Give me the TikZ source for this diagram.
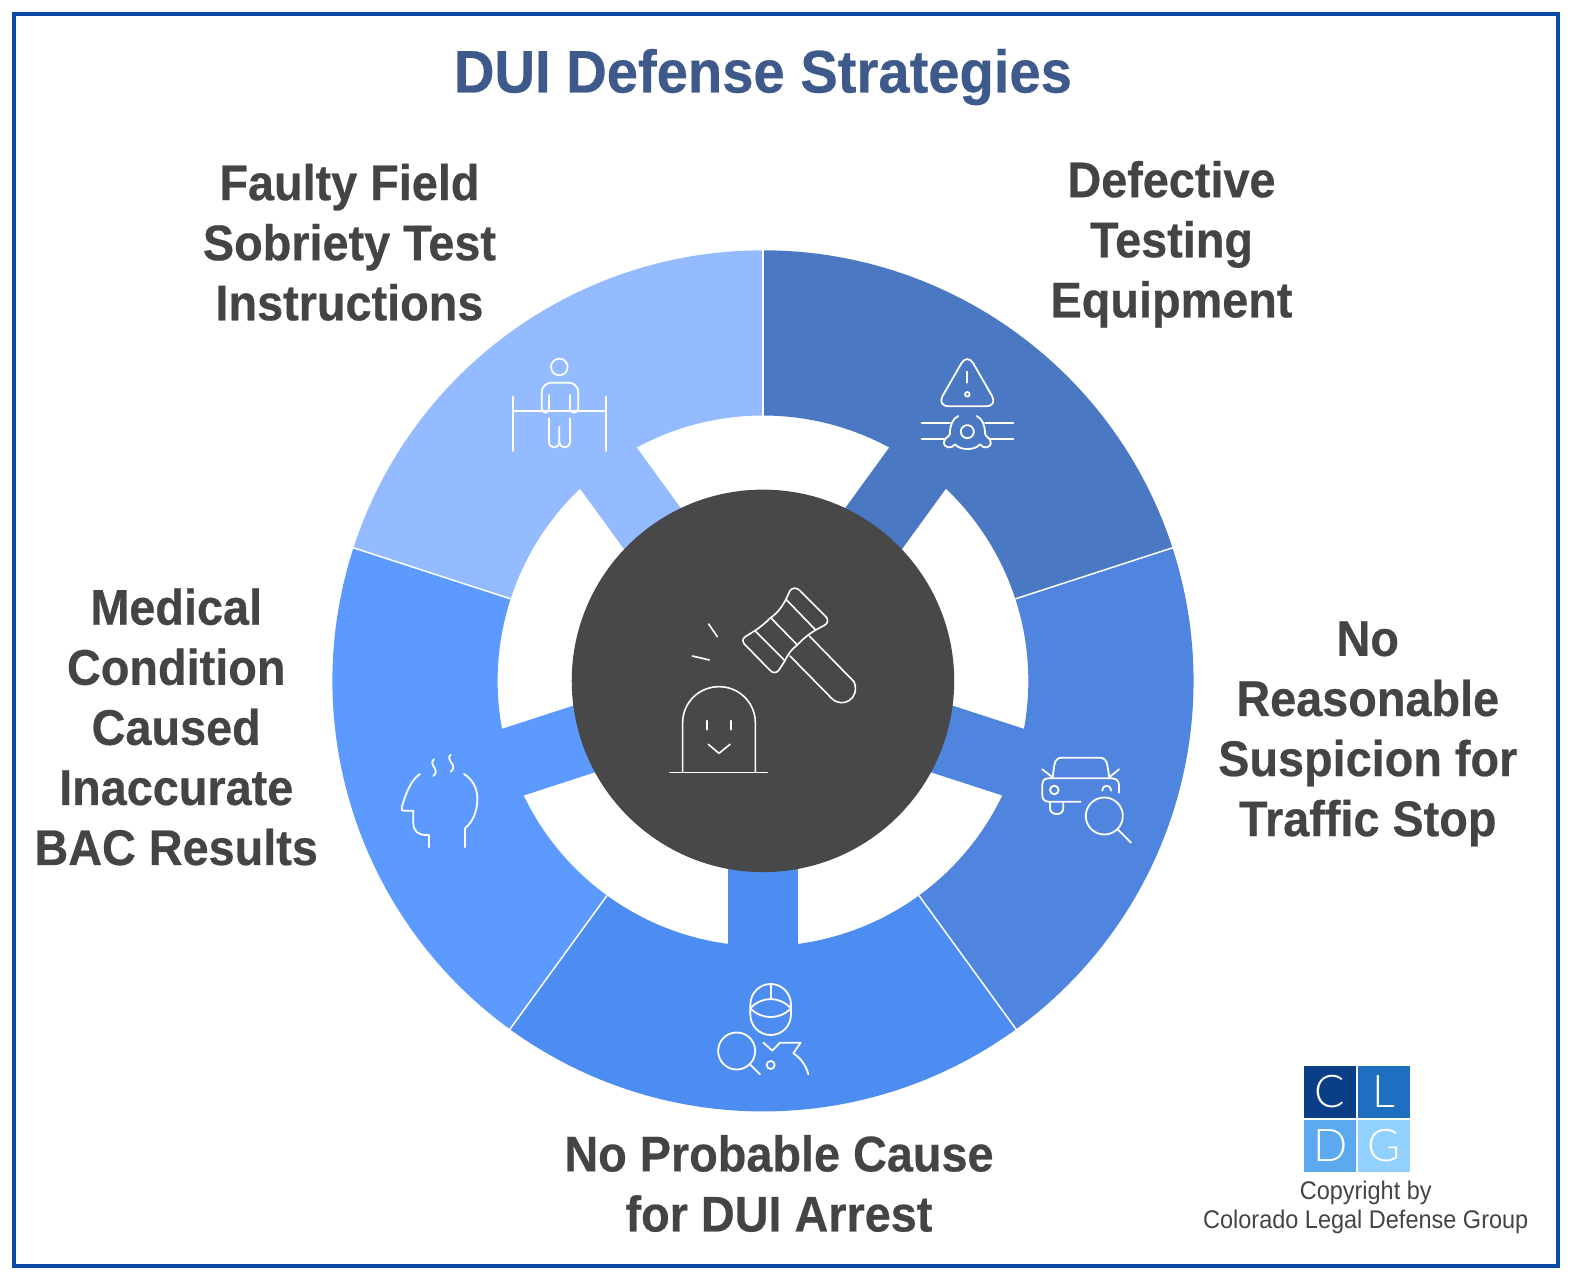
\documentclass[tikz,border=0pt]{standalone}
\usepackage{fontspec}
\setmainfont{Liberation Sans}
\newfontfamily\logofont{Lato Light}
\newfontfamily\strongfont{Liberation Sans Bold}[FakeStretch=0.935,FakeBold=0.45]
\newfontfamily\copyfont{Liberation Sans}[FakeStretch=0.92]
\definecolor{frameblue}{HTML}{0B4BA8}
\definecolor{titleblue}{HTML}{3D5A8A}
\definecolor{ink}{HTML}{444444}
\definecolor{hub}{HTML}{484848}
\definecolor{segA}{HTML}{4A78C2}
\definecolor{segB}{HTML}{4F85DF}
\definecolor{segC}{HTML}{4D8CF1}
\definecolor{segD}{HTML}{5C9AFF}
\definecolor{segE}{HTML}{94BBFF}
\definecolor{logoA}{HTML}{0A3F88}
\definecolor{logoB}{HTML}{1E6EC2}
\definecolor{logoC}{HTML}{5BAAF0}
\definecolor{logoD}{HTML}{91D0FF}
\tikzset{
  zoomed/.style 2 args={shift={({#1*0.9987},{#2*0.9987})},x=0.3329pt,y=-0.3329pt},
  icon/.style={draw=white,line width=1.8pt,line cap=round,line join=round},
  thinicon/.style={draw=white,line width=1.6pt,line cap=round,line join=round},
  heading/.style={font=\fontsize{60}{60}\strongfont,text=titleblue,inner sep=0pt},
  label/.style={font=\fontsize{50}{60}\strongfont,text=ink,align=center,inner sep=0pt},
  small/.style={font=\fontsize{25.5}{29}\copyfont,text=ink,align=center,inner sep=0pt},
  logotile/.style={inner sep=0pt,minimum width=51.5pt,minimum height=51.5pt,text=white,font=\fontsize{45}{45}\logofont}
}
\newcommand{\ringseg}[3]{%
  \fill[#3] (#1:265pt) -- (#1:430pt) arc[start angle=#1,end angle=#2,radius=430pt]
     -- (#2:265pt) arc[start angle=#2,end angle=#1,radius=265pt] -- cycle;
  \pgfmathsetmacro{\midang}{(#1+#2)/2}
  \fill[#3,rotate=\midang] (150pt,-35pt) rectangle (268pt,35pt);
}
\begin{document}
\begin{tikzpicture}[x=1pt,y=-1pt]
\useasboundingbox (0,0) rectangle (1568,1278.4);
\fill[white] (0,0) rectangle (1568,1278.4);
\draw[frameblue,line width=4pt] (14,14) rectangle (1556,1264);

\begin{scope}[shift={(762,680)},x=1pt,y=1pt]
  \ringseg{18}{90}{segA}
  \ringseg{-54}{18}{segB}
  \ringseg{-126}{-54}{segC}
  \ringseg{-198}{-126}{segD}
  \ringseg{90}{162}{segE}
  \foreach \a in {18,90,162,234,306}
    \draw[white,line width=1.5pt] (\a:265pt) -- (\a:431pt);
  \fill[hub] (0,0) circle[radius=191pt];
\end{scope}

\node[heading] (title) at (762,77) {DUI Defense Strategies};
\node[label] (faulty) at (349,242) {Faulty Field\\Sobriety Test\\Instructions};
\node[label] (defective) at (1170,244) {Defective\\Testing\\Equipment};
\node[label] (reasonable) at (1366,733) {No\\Reasonable\\Suspicion for\\Traffic Stop};
\node[label] (probable) at (778,1182) {No Probable Cause\\for DUI Arrest};
\node[label] (medical) at (176,726) {Medical\\Condition\\Caused\\Inaccurate\\BAC Results};

% person at rails
\begin{scope}[zoomed={480}{340}]
  \draw[icon] (238,81) circle[radius=8.3pt];
  \draw[icon] (207,165) -- (207,207) .. controls (207,222) and (185,222) .. (185,205) -- (185,160)
     .. controls (185,140) and (198,128) .. (215,128) -- (265,128)
     .. controls (283,128) and (295,140) .. (295,160) -- (295,205)
     .. controls (295,222) and (270,222) .. (270,207) -- (270,165);
  \draw[icon] (207,235) -- (207,305) .. controls (207,328) and (238,328) .. (238,305) -- (238,260);
  \draw[icon] (238,305) .. controls (238,328) and (270,328) .. (270,305) -- (270,235);
  \draw[icon] (100,170) -- (100,333);
  \draw[icon] (377,170) -- (377,333);
  \draw[icon] (100,212) -- (377,212);
\end{scope}

% warning and valve
\begin{scope}[zoomed={900}{340}]
  \draw[icon,rounded corners=12pt] (202,39) -- (110,199) -- (294,199) -- cycle;
  \draw[icon] (202,95) -- (202,128);
  \draw[icon] (202,163) circle[radius=2.3pt];
  \draw[icon] (202,275) circle[radius=6.5pt];
  \draw[icon] (65,250) -- (150,250);
  \draw[icon] (65,297) -- (135,297);
  \draw[icon] (255,250) -- (340,250);
  \draw[icon] (270,297) -- (340,297);
  \draw[icon] (175,228) .. controls (158,236) and (150,255) .. (150,280) .. controls (150,290) and (135,292) .. (132,305)
     .. controls (130,325) and (155,328) .. (165,313) .. controls (180,332) and (225,332) .. (240,313)
     .. controls (250,328) and (275,325) .. (272,305) .. controls (270,292) and (255,290) .. (255,280)
     .. controls (255,255) and (247,236) .. (230,228);
\end{scope}

% car and magnifier
\begin{scope}[zoomed={1020}{740}]
  \draw[icon] (98,112) -- (103,75) .. controls (105,60) and (115,53) .. (125,53) -- (240,53)
     .. controls (252,53) and (260,62) .. (262,75) -- (268,112);
  \draw[icon] (182,185) -- (85,185) .. controls (73,185) and (67,177) .. (67,165) -- (67,135)
     .. controls (67,123) and (73,115) .. (85,115) -- (275,115)
     .. controls (288,115) and (297,123) .. (297,135) -- (297,158);
  \draw[icon] (67,88) -- (95,110);
  \draw[icon] (297,88) -- (270,110);
  \draw[icon] (103,150) circle[radius=4.3pt];
  \draw[icon] (247,152) .. controls (249,132) and (271,132) .. (273,152);
  \draw[icon] (90,187) -- (90,205) .. controls (90,228) and (130,228) .. (130,205) -- (130,187);
  \draw[icon] (253,228) circle[radius=18.5pt];
  \draw[icon] (293,268) -- (333,308);
\end{scope}

% officer with magnifier
\begin{scope}[zoomed={700}{970}]
  \draw[icon] (151,105) .. controls (151,70) and (178,42) .. (212,42) .. controls (246,42) and (273,70) .. (273,105)
     -- (273,133) .. controls (273,168) and (246,195) .. (212,195) .. controls (178,195) and (151,168) .. (151,133) -- cycle;
  \draw[icon] (151,115) .. controls (185,78) and (239,78) .. (273,115);
  \draw[icon] (151,115) .. controls (185,150) and (239,150) .. (273,115);
  \draw[icon] (212,42) -- (212,87);
  \draw[icon] (110,243) circle[radius=18.5pt];
  \draw[icon] (150,283) -- (180,313);
  \draw[icon] (190,218) -- (217,242) -- (240,218) -- (302,218) -- (280,250) .. controls (302,265) and (318,285) .. (325,313);
  \draw[icon] (212,285) circle[radius=4pt];
\end{scope}

% head with steam
\begin{scope}[zoomed={385}{740}]
  \draw[icon] (105,102) .. controls (78,120) and (62,160) .. (50,203) .. controls (48,210) and (50,212) .. (57,212)
     -- (85,212) -- (85,250) .. controls (85,272) and (100,285) .. (120,285) -- (132,285) -- (132,322);
  \draw[icon] (237,102) .. controls (270,122) and (283,160) .. (275,200) .. controls (270,232) and (255,253) .. (240,265) -- (240,322);
  \draw[icon] (147,58) .. controls (130,72) and (158,85) .. (152,98) .. controls (151,103) and (148,106) .. (145,108);
  \draw[icon] (197,44) .. controls (182,60) and (210,72) .. (205,85) .. controls (203,90) and (200,93) .. (197,95);
\end{scope}

% gavel and face
\begin{scope}[zoomed={650}{570}]
  \draw[thinicon] (315,182) -- (286,200) .. controls (277,206) and (277,215) .. (283,222) -- (360,301)
     .. controls (368,310) and (380,310) .. (387,300) -- (405,272)
     .. controls (415,250) and (425,238) .. (442,225) .. controls (460,205) and (480,190) .. (497,180)
     -- (525,165) .. controls (535,158) and (535,147) .. (527,139) -- (450,62)
     .. controls (440,52) and (428,52) .. (420,62) -- (408,88)
     .. controls (395,112) and (382,130) .. (362,143) .. controls (345,160) and (330,172) .. (315,182) -- cycle;
  \draw[thinicon] (315,182) -- (405,272);
  \draw[thinicon] (362,143) -- (442,225);
  \draw[thinicon] (408,88) -- (497,180);
  \draw[thinicon] (420,258) -- (545,385) .. controls (578,418) and (632,385) .. (612,335) -- (478,198);
  \draw[thinicon] (176,162) -- (202,200);
  \draw[thinicon] (127,258) -- (178,270);
  \draw[thinicon] (98,606) -- (98,458) .. controls (98,398) and (147,350) .. (207,350) .. controls (267,350) and (316,398) .. (316,458) -- (316,606);
  \draw[thinicon] (60,608) -- (352,608);
  \draw[thinicon] (171,452) -- (171,479);
  \draw[thinicon] (243,452) -- (243,479);
  \draw[thinicon] (175,523) -- (207,550) -- (240,523);
\end{scope}

% logo
\node[logotile,fill=logoA] (logoc) at (1328.5,1090.5) {C};
\node[logotile,fill=logoB] (logol) at (1382.5,1090.5) {L};
\node[logotile,fill=logoC] (logod) at (1328.5,1144.5) {D};
\node[logotile,fill=logoD] (logog) at (1382.5,1144.5) {G};
\node[small] (copyright) at (1364,1206) {Copyright by\\Colorado Legal Defense Group};
\end{tikzpicture}
\end{document}
